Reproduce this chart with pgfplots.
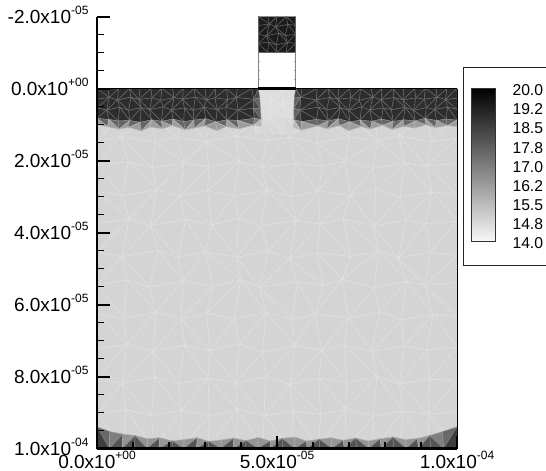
\documentclass[border=0pt]{standalone}
\usepackage{pgfplots}
\pgfplotsset{compat=1.18}
\usepackage{pgfplotstable}
\usepackage{fontspec}
\setmainfont{Liberation Sans}
\newcommand\lab[2]{\fontsize{19}{19}\selectfont #1x10\raisebox{9pt}{\fontsize{12}{12}\selectfont #2}}
\newcommand\leg[1]{\fontsize{15.7}{15.7}\selectfont #1}
\newwrite\cf
\immediate\openout\cf=conn.dat
\newcount\rr \newcount\cc
\def\addblock#1#2#3{\rr=0 \loop\ifnum\rr<\numexpr#2-1\relax {\cc=0 \loop\ifnum\cc<\numexpr#3-1\relax
 \edef\va{\the\numexpr#1+\rr*#3+\cc\relax}\edef\vb{\the\numexpr\va+1\relax}\edef\vd{\the\numexpr\va+#3\relax}\edef\ve{\the\numexpr\vd+1\relax}
 \ifodd\numexpr\rr*\cc+\cc/3+\rr/2+\cc\relax \immediate\write\cf{\va\space\vb\space\vd}\immediate\write\cf{\vb\space\ve\space\vd}\else \immediate\write\cf{\va\space\vb\space\ve}\immediate\write\cf{\va\space\ve\space\vd}\fi
 \advance\cc by 1 \repeat}\advance\rr by 1 \repeat}
\addblock{0}{13}{14}
\addblock{182}{2}{30}
\addblock{242}{4}{4}
\addblock{258}{5}{16}
\addblock{338}{5}{16}
\addblock{418}{5}{5}
\immediate\closeout\cf
\pgfplotstableread[row sep=\\]{x y v\\
0 0 15\\7.2 0 15\\15.8 0 15\\23.1 0 15\\30.9 0 15\\38.7 0 15\\46.2 0 15\\53.9 0 15\\61.5 0 15\\69.2 0 15\\77.1 0 15\\84.4 0 15\\92.3 0 15\\100 0 15\\
0 7.4 15\\8.1 6.2 15\\14.9 7.8 15\\23.8 6.9 15\\31.6 7.5 15\\39.1 6.4 15\\45.9 8.0 15\\54.6 6.7 15\\62.2 7.6 15\\68.7 6.3 15\\76.9 7.7 15\\85.1 6.8 15\\91.8 7.3 15\\100 6.9 15\\
0 14.6 15\\6.6 13.3 15\\16.2 15.0 15\\22.4 13.6 15\\30.3 14.8 15\\38.4 13.2 15\\47.1 14.5 15\\53.2 13.5 15\\60.9 15.1 15\\70.1 13.4 15\\78.0 14.7 15\\83.9 13.1 15\\92.9 14.9 15\\100 13.8 15\\
0 21.2 15\\8.7 20.4 15\\15.3 22.1 15\\24.2 20.6 15\\31.1 21.8 15\\39.6 20.2 15\\45.8 22.0 15\\55.1 20.8 15\\62.7 21.6 15\\68.9 20.1 15\\76.6 22.2 15\\85.5 20.7 15\\91.5 21.5 15\\100 20.9 15\\
0 28.6 15\\7.1 29.8 15\\16.6 28.1 15\\22.9 30.0 15\\30.7 28.4 15\\38.0 29.9 15\\47.3 28.2 15\\53.8 30.1 15\\61.4 28.5 15\\70.4 29.7 15\\77.5 28.0 15\\84.2 30.2 15\\93.1 28.7 15\\100 29.5 15\\
0 37.5 15\\8.9 36.2 15\\15.0 38.1 15\\24.6 36.4 15\\31.9 37.9 15\\39.3 36.0 15\\45.5 38.2 15\\55.4 36.6 15\\62.0 37.7 15\\68.4 36.1 15\\76.8 38.3 15\\85.8 36.5 15\\91.2 37.6 15\\100 36.8 15\\
0 45.4 15\\6.9 46.8 15\\16.9 45.0 15\\22.6 47.0 15\\30.1 45.3 15\\38.8 46.9 15\\47.6 45.1 15\\53.5 47.2 15\\61.1 45.6 15\\70.6 46.7 15\\78.3 45.2 15\\83.7 47.1 15\\92.6 45.5 15\\100 46.3 15\\
0 54.6 15\\8.4 53.2 15\\14.6 55.2 15\\24.0 53.4 15\\32.2 55.0 15\\39.9 53.1 15\\45.2 55.3 15\\55.7 53.6 15\\62.9 54.8 15\\68.1 53.0 15\\77.0 55.4 15\\86.0 53.5 15\\91.0 54.7 15\\100 53.9 15\\
0 62.5 15\\7.5 63.9 15\\16.3 62.1 15\\23.3 64.1 15\\30.5 62.4 15\\38.2 64.0 15\\47.0 62.2 15\\54.2 64.2 15\\60.6 62.6 15\\69.8 63.8 15\\78.6 62.0 15\\84.6 64.3 15\\93.4 62.7 15\\100 63.4 15\\
0 72.4 15\\8.2 71.1 15\\15.6 73.0 15\\24.4 71.3 15\\31.4 72.9 15\\39.5 71.0 15\\46.0 73.2 15\\54.9 71.4 15\\62.4 72.7 15\\68.6 71.2 15\\76.3 73.1 15\\85.3 71.5 15\\91.6 72.6 15\\100 71.8 15\\
0 80.6 15\\7.0 81.9 15\\16.0 80.2 15\\22.7 82.0 15\\30.8 80.4 15\\38.5 81.8 15\\46.9 80.1 15\\53.6 82.2 15\\61.7 80.5 15\\69.5 81.7 15\\77.8 80.0 15\\84.0 82.1 15\\92.4 80.7 15\\100 81.3 15\\
0 90.4 15\\8.0 89.2 15\\15.2 90.8 15\\23.5 89.4 15\\31.3 90.9 15\\39.0 89.1 15\\46.4 91.0 15\\54.4 89.5 15\\62.1 90.6 15\\69.0 89.0 15\\76.7 91.1 15\\85.0 89.6 15\\92.0 90.5 15\\100 89.8 15\\
0 100 15\\7.2 100 15\\15.8 100 15\\23.1 100 15\\30.9 100 15\\38.7 100 15\\46.2 100 15\\53.9 100 15\\61.5 100 15\\69.2 100 15\\77.1 100 15\\84.4 100 15\\92.3 100 15\\100 100 15\\
0 94.0 16.5\\3.6 95.3 16.5\\7.2 96.0 15\\10.6 96.4 15\\14.1 97.3 15\\17.4 97.0 15\\21.0 97.9 15\\24.2 97.5 15\\27.9 97.0 15\\31.0 98.0 15\\34.6 97.6 15\\38.0 97.1 15\\41.4 97.8 15\\44.8 96.9 15\\48.1 97.9 15\\51.4 97.2 15\\54.9 96.8 15\\58.2 97.9 15\\61.7 97.4 15\\65.0 97.0 15\\68.4 97.7 15\\71.8 97.1 15\\75.3 97.9 15\\78.6 97.3 15\\82.2 96.8 15\\85.6 97.5 15\\89.0 97.2 15\\92.4 96.4 15\\96.0 95.3 16.5\\100 94.0 16.5\\
0 100 19.5\\3.4 100 19.5\\7.0 100 19.5\\10.4 100 19.5\\13.9 100 19.5\\17.3 100 19.5\\20.8 100 19.5\\24.1 100 19.5\\27.6 100 19.5\\31.0 100 19.5\\34.4 100 19.5\\37.9 100 19.5\\41.3 100 19.5\\44.7 100 19.5\\48.2 100 19.5\\51.6 100 19.5\\55.0 100 19.5\\58.4 100 19.5\\61.9 100 19.5\\65.3 100 19.5\\68.7 100 19.5\\72.2 100 19.5\\75.6 100 19.5\\79.0 100 19.5\\82.4 100 19.5\\85.9 100 19.5\\89.3 100 19.5\\92.8 100 19.5\\96.3 100 19.5\\100 100 19.5\\
44 0 14.8\\48.2 0 14.8\\51.8 0 14.8\\56 0 14.8\\
44 4.2 14.8\\48.6 3.7 14.8\\51.4 4.4 14.8\\56 3.9 14.8\\
44 8.2 14.8\\47.9 8.5 14.8\\52.1 7.8 14.8\\56 8.4 14.8\\
44 12.5 15\\48.4 12.0 15\\51.6 12.7 15\\56 12.1 15\\
0 0 18.9\\3.0 0 18.9\\6.0 0 18.9\\9.0 0 18.9\\12.0 0 18.9\\15.0 0 18.9\\18.0 0 18.9\\21.0 0 18.9\\24.0 0 18.9\\27.0 0 18.9\\30.0 0 18.9\\33.0 0 18.9\\36.0 0 18.9\\39.0 0 18.9\\43.0 0 18.9\\44.8 0 18.9\\
0 3.0 18.9\\3.4 2.5 18.9\\5.7 3.2 18.9\\9.4 2.4 18.9\\11.6 3.1 18.9\\15.3 2.6 18.9\\17.7 3.3 18.9\\21.4 2.5 18.9\\23.8 3.0 18.9\\27.3 2.4 18.9\\30.4 3.2 18.9\\32.8 2.6 18.9\\36.3 3.1 18.9\\38.7 2.5 18.9\\43.6 3.0 18.9\\45.2 2.7 17\\
0 5.4 18.9\\2.7 6.0 18.9\\6.3 5.2 18.9\\8.8 6.1 18.9\\12.3 5.3 18.9\\14.6 5.9 18.9\\18.4 5.1 18.9\\20.7 6.0 18.9\\24.3 5.4 18.9\\26.8 6.1 18.9\\29.7 5.2 18.9\\33.4 5.9 18.9\\35.8 5.3 18.9\\39.2 6.0 18.9\\43.4 5.5 18.9\\45.4 5.6 17\\
0 8.3 18.9\\3.3 8.6 18.9\\5.9 9.0 18.9\\9.1 8.9 18.9\\12.0 9.4 18.9\\15.2 8.7 18.9\\17.9 9.1 18.9\\21.1 8.5 18.9\\24.1 9.2 18.9\\26.9 8.8 18.9\\30.2 8.4 18.9\\33.0 9.3 18.9\\36.1 8.7 18.9\\39.0 8.9 18.9\\43.7 8.3 18.9\\45.6 8.6 17\\
0 10.0 15\\2.9 10.6 15\\6.1 11.3 15\\8.7 10.8 15\\12.4 11.8 15\\14.7 10.7 15\\18.2 11.2 15\\20.9 10.3 15\\24.5 11.5 15\\27.1 11.0 15\\29.9 10.4 15\\33.3 11.7 15\\35.9 10.6 15\\39.4 11.2 15\\43.5 10.2 15\\45.8 10.6 15\\
55.2 0 18.9\\57.0 0 18.9\\61.2 0 18.9\\64.2 0 18.9\\67.2 0 18.9\\70.2 0 18.9\\73.2 0 18.9\\76.2 0 18.9\\79.2 0 18.9\\82.2 0 18.9\\85.2 0 18.9\\88.2 0 18.9\\91.2 0 18.9\\94.2 0 18.9\\97.2 0 18.9\\100 0 18.9\\
54.8 2.7 17\\56.6 2.4 18.9\\60.9 3.2 18.9\\64.6 2.5 18.9\\66.9 3.0 18.9\\70.5 2.6 18.9\\72.9 3.3 18.9\\76.6 2.4 18.9\\78.9 3.1 18.9\\82.5 2.5 18.9\\85.0 3.2 18.9\\88.6 2.6 18.9\\90.9 3.0 18.9\\94.5 2.4 18.9\\96.8 3.1 18.9\\100 2.7 18.9\\
54.7 5.5 17\\56.4 6.0 18.9\\61.5 5.2 18.9\\63.8 5.9 18.9\\67.6 5.3 18.9\\69.9 6.1 18.9\\73.5 5.1 18.9\\75.8 6.0 18.9\\79.5 5.4 18.9\\81.8 5.9 18.9\\85.6 5.2 18.9\\87.9 6.1 18.9\\91.5 5.3 18.9\\93.8 5.8 18.9\\97.4 5.2 18.9\\100 5.8 18.9\\
54.7 8.7 17\\56.8 9.2 18.9\\61.0 8.6 18.9\\64.3 9.0 18.9\\67.0 8.4 18.9\\70.3 9.3 18.9\\73.1 8.8 18.9\\76.4 9.1 18.9\\79.0 8.5 18.9\\82.3 9.2 18.9\\85.1 8.7 18.9\\88.4 9.0 18.9\\91.1 8.3 18.9\\94.3 8.9 18.9\\97.0 8.5 18.9\\100 8.8 18.9\\
54.4 10.8 15\\56.6 11.6 15\\61.3 10.4 15\\63.9 11.2 15\\67.4 10.3 15\\69.8 11.7 15\\73.4 10.6 15\\75.9 11.3 15\\79.3 10.2 15\\82.0 11.4 15\\85.4 10.5 15\\88.1 11.0 15\\91.4 10.1 15\\94.0 10.9 15\\97.3 10.3 15\\100 10.6 15\\
44.8 -20 19.3\\47.4 -20 19.3\\50.0 -20 19.3\\52.6 -20 19.3\\55.2 -20 19.3\\
44.8 -17.5 19.3\\47.9 -17.9 19.3\\49.6 -17.1 19.3\\53.0 -17.8 19.3\\55.2 -17.5 19.3\\
44.8 -15 19.3\\47.1 -14.6 19.3\\50.5 -15.4 19.3\\52.3 -14.7 19.3\\55.2 -15 19.3\\
44.8 -12.5 19.3\\47.7 -12.9 19.3\\49.8 -12.1 19.3\\52.9 -12.8 19.3\\55.2 -12.5 19.3\\
44.8 -10 19.3\\47.4 -10 19.3\\50.0 -10 19.3\\52.6 -10 19.3\\55.2 -10 19.3\\
}\verts
\begin{document}
\begin{tikzpicture}[x=1pt,y=1pt]
\path[use as bounding box] (0,0) rectangle (546,471);
\begin{axis}[at={(97pt,22.5pt)},anchor=south west,scale only axis,width=360pt,height=432pt,
 xmin=0,xmax=100,ymin=-20,ymax=100,y dir=reverse,
 axis x line*=bottom,axis y line*=left,
 axis line style={line width=2.4pt},
 colormap={wb}{gray(0cm)=(1); gray(1cm)=(0)},point meta min=14,point meta max=20,
 xtick={0,50,100},ytick={-20,0,20,40,60,80,100},
 minor x tick num=4,minor y tick num=3,tick align=inside,
 major tick length=13pt,minor tick length=7pt,
 major tick style={line width=2pt,black},minor tick style={line width=1.3pt,black},
 xticklabels={\lab{0.0}{+00},\lab{5.0}{-05},\lab{1.0}{-04}},
 yticklabels={\lab{-2.0}{-05},\lab{0.0}{+00},\lab{2.0}{-05},\lab{4.0}{-05},\lab{6.0}{-05},\lab{8.0}{-05},\lab{1.0}{-04}},
 xticklabel style={anchor=base,yshift=-19.5pt},
 yticklabel style={anchor=base east,xshift=-5pt,yshift=-6.5pt},
 axis on top,clip=false]
\addplot[patch,patch type=triangle,shader=faceted,faceted color=mapped color!70!white,line width=0.45pt,
 patch table=conn.dat,point meta=explicit]
 table[meta=v] {\verts};
% white window's side walls, with their cell marks
\addplot[gray,line width=0.9pt] coordinates {(44.8,-10)(44.8,-7.5)(45.2,-7.5)(44.8,-7.5)(44.8,-5)(45.2,-5)(44.8,-5)(44.8,-2.5)(45.2,-2.5)(44.8,-2.5)(44.8,0)};
\addplot[gray,line width=0.9pt] coordinates {(55.2,-10)(55.2,-7.5)(54.8,-7.5)(55.2,-7.5)(55.2,-5)(54.8,-5)(55.2,-5)(55.2,-2.5)(54.8,-2.5)(55.2,-2.5)(55.2,0)};
% surface line and right-hand border
\addplot[black,line width=1.1pt] coordinates {(0,0)(100,0)};
\addplot[black,line width=2.2pt] coordinates {(44.8,0)(55.2,0)};
\addplot[black,line width=1pt] coordinates {(100,0)(100,100)};
\end{axis}
\begin{axis}[at={(471pt,229.5pt)},anchor=south west,scale only axis,width=24pt,height=153.5pt,
 xmin=0,xmax=1,ymin=14,ymax=20,xtick=\empty,
 colormap={wb}{gray(0cm)=(0.97); gray(1cm)=(0)},point meta min=14,point meta max=20,
 ytick={14,14.75,15.5,16.25,17,17.75,18.5,19.25,20},
 yticklabels={\leg{14.0},\leg{14.8},\leg{15.5},\leg{16.2},\leg{17.0},\leg{17.8},\leg{18.5},\leg{19.2},\leg{20.0}},
 yticklabel pos=right,major tick length=0pt,
 yticklabel style={anchor=base west,xshift=14pt,yshift=-7.5pt},
 axis line style={line width=0.8pt,black!80},axis on top]
\addplot[surf,shader=interp,mesh/rows=2,point meta=y] coordinates {(0,14)(1,14)(0,20)(1,20)};
\end{axis}
\draw[line width=1.1pt,black!85] (546,403.5)--(463.5,403.5)--(463.5,205.5)--(546,205.5);
\end{tikzpicture}
\end{document}
